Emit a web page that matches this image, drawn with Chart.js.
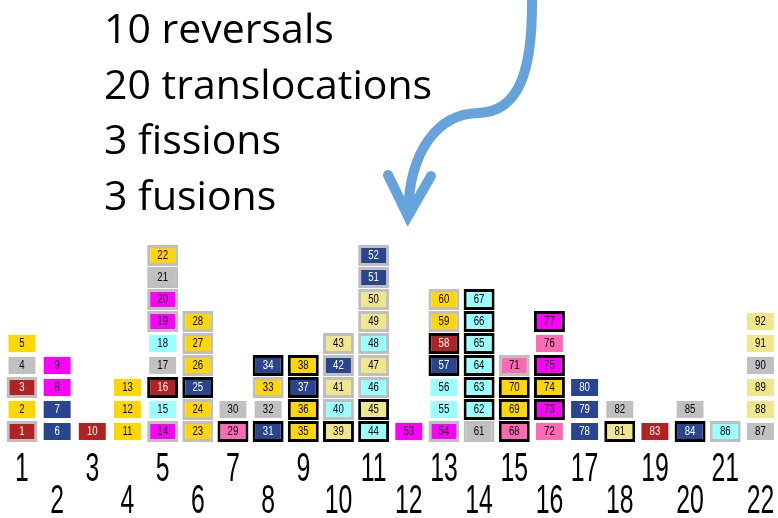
<!DOCTYPE html>
<html>
<head>
<meta charset="utf-8">
<script src="https://cdn.jsdelivr.net/npm/chart.js@4/dist/chart.umd.min.js"></script>
<style>
  html, body { margin: 0; padding: 0; background: #fff; }
  #wrap { position: relative; width: 778px; height: 518px; overflow: hidden; }
  #notes {
    position: absolute; left: 104px; top: 0px;
    font-family: "Open Sans", sans-serif; font-size: 41px; line-height: 55.5px;
    color: #000; white-space: nowrap;
  }
</style>
</head>
<body>
<div id="wrap">
  <canvas id="chart" width="778" height="518"></canvas>
  <div id="notes">
    <div>10 reversals</div>
    <div>20 translocations</div>
    <div>3 fissions</div>
    <div>3 fusions</div>
  </div>
</div>
<script>
// chromosomes along the bottom
const chromosomes = ["1","2","3","4","5","6","7","8","9","10","11","12","13","14","15","16","17","18","19","20","21","22"]

// block ids per chromosome, bottom to top
const blockIds = [
  [1,2,3,4,5], [6,7,8,9], [10], [11,12,13],
  [14,15,16,17,18,19,20,21,22], [23,24,25,26,27,28], [29,30], [31,32,33,34],
  [35,36,37,38], [39,40,41,42,43], [44,45,46,47,48,49,50,51,52], [53],
  [54,55,56,57,58,59,60], [61,62,63,64,65,66,67], [68,69,70,71], [72,73,74,75,76,77],
  [78,79,80], [81,82], [83], [84,85], [86], [87,88,89,90,91,92]
]

// ancestral origin of each block (R red, N navy, Y yellow, M magenta, G grey, C cyan, P pink, K khaki)
const blockOrigin = [
  "RYRGY", "NNMM", "R", "YYY",
  "MCRGCMMGY", "YYNYYY", "PG", "NGYN",
  "YYNY", "KCKNK", "CKCKCKKNN", "M",
  "MCCNRYY", "GCCCCCC", "PYYP", "PMYMPM",
  "NNN", "KG", "R", "NG", "C", "GKKGKK"
]

// frame around block: g = grey, b = black, - = none
const blockFrame = [
  "g-g--", "----", "-", "---",
  "g-b--gggg", "ggbggg", "b-", "b-gb",
  "bbbb", "bgggg", "bbggggggg", "-",
  "g--bbgg", "gbbbbbb", "bbbg", "-bbb-b",
  "---", "b-", "-", "b-", "g", "------"
]

const palette = { R: "#b22222", N: "#2a4590", Y: "#ffd700", M: "#ff00ff", G: "#c0c0c0", C: "#99ffff", P: "#ff69b4", K: "#f0e68c" }
const frameColor = { g: "#bfbfbf", b: "#000000", "-": "#ffffff" }
const whiteText = ["R", "N"]

const gap = 0.5 / 22
const maxRows = Math.max(...blockIds.map(c => c.length))
const datasets = []
for (let k = 0; k < maxRows; k++) {
  datasets.push({
    data: blockIds.map(col => col.length > k ? [k + gap, k + 1 - gap] : null),
    ids: blockIds.map(col => col.length > k ? col[k] : null),
    origin: blockOrigin.map(s => s[k] || null),
    backgroundColor: blockOrigin.map(s => s[k] ? palette[s[k]] : "#fff"),
    borderColor: blockFrame.map(s => s[k] ? frameColor[s[k]] : "#fff"),
    borderWidth: blockFrame.map(s => s[k] && s[k] !== "-" ? 3 : 2),
    borderSkipped: false,
    grouped: false,
    barPercentage: 0.88,
    categoryPercentage: 1
  })
}

// draw text squeezed horizontally (the original uses a narrow face)
function narrowText(ctx, text, x, y, squeeze) {
  ctx.save()
  ctx.translate(x, y)
  ctx.scale(squeeze, 1)
  ctx.fillText(text, 0, 0)
  ctx.restore()
}

// numbers inside blocks
const blockLabels = {
  id: "blockLabels",
  afterDatasetsDraw(chart) {
    const ctx = chart.ctx
    ctx.save()
    ctx.font = "12px 'Liberation Sans', sans-serif"
    ctx.textAlign = "center"
    ctx.textBaseline = "middle"
    chart.data.datasets.forEach((ds, i) => {
      chart.getDatasetMeta(i).data.forEach((bar, j) => {
        if (ds.ids[j] == null) return
        const p = bar.getProps(["x", "y", "base"], true)
        ctx.fillStyle = whiteText.includes(ds.origin[j]) ? "#fff" : "#000"
        narrowText(ctx, String(ds.ids[j]), p.x, (p.y + p.base) / 2 + 0.5, 0.8)
      })
    })
    ctx.restore()
  }
}

// chromosome numbers, alternating on two lines
const chromLabels = {
  id: "chromLabels",
  afterDraw(chart) {
    const ctx = chart.ctx
    const xs = chart.scales.x
    const bottom = chart.chartArea.bottom
    ctx.save()
    ctx.font = "40px 'Liberation Sans', sans-serif"
    ctx.fillStyle = "#000"
    ctx.textAlign = "center"
    ctx.textBaseline = "alphabetic"
    chromosomes.forEach((c, i) => {
      const y = bottom + (i % 2 === 0 ? 38 : 70)
      narrowText(ctx, c, xs.getPixelForTick(i), y, 0.62)
    })
    ctx.restore()
  }
}

// curved blue arrow
const arrow = {
  id: "arrow",
  afterDraw(chart) {
    const ctx = chart.ctx
    ctx.save()
    ctx.strokeStyle = "#66a3dd"
    ctx.lineWidth = 10
    ctx.lineCap = "round"
    ctx.beginPath()
    ctx.moveTo(532, -5)
    ctx.bezierCurveTo(533, 70, 520, 112, 478, 113)
    ctx.bezierCurveTo(438, 114, 410, 150, 408, 212)
    ctx.stroke()
    ctx.lineJoin = "miter"
    ctx.beginPath()
    ctx.moveTo(388, 175)
    ctx.lineTo(408, 216)
    ctx.lineTo(431, 176)
    ctx.stroke()
    ctx.restore()
  }
}

new Chart(document.getElementById("chart"), {
  type: "bar",
  data: { labels: chromosomes, datasets },
  options: {
    responsive: false,
    animation: false,
    devicePixelRatio: 1,
    layout: { padding: { top: 2.5, left: 4.4, right: 0, bottom: 0 } },
    plugins: { legend: { display: false }, tooltip: { enabled: false } },
    scales: {
      x: {
        grid: { display: false, drawTicks: false },
        border: { display: false },
        ticks: { display: false },
        afterFit(axis) { axis.height = 75.5 }
      },
      y: { display: false, min: 0, max: 20 }
    }
  },
  plugins: [blockLabels, chromLabels, arrow]
})
</script>
</body>
</html>
